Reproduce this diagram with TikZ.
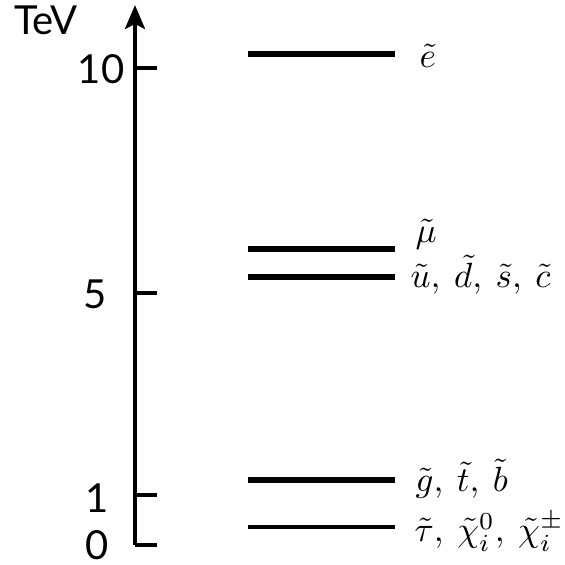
\documentclass[tikz,border=0pt]{standalone}
\usepackage{fontspec}
\newfontfamily\axisfont{Lato}
\usepackage{amsmath,amssymb}
\usetikzlibrary{arrows.meta}
\tikzset{
  axis/.style     = {line width=4pt,-{Stealth[length=24pt,width=20pt,inset=5pt]}},
  axtick/.style   = {line width=4pt},
  level/.style    = {line width=6pt},
  lowlevel/.style = {line width=4.5pt},
  numlbl/.style   = {font=\axisfont\fontsize{40}{44}\selectfont,inner sep=0pt},
  partlbl/.style  = {scale=3.5,anchor=base west,inner sep=0pt},
}
\begin{document}
\begin{tikzpicture}[x=1pt,y=1pt]
  \useasboundingbox (0,0) rectangle (565,565);
  % energy axis
  \coordinate (axbot) at (135,20);
  \coordinate (axtop) at (135,560);
  \draw[axis] (axbot) -- (axtop);
  \node[numlbl] (tev) at (46,545) {TeV};
  \draw[axtick] (135,497) -- (157,497);
  \draw[axtick] (135,272) -- (157,272);
  \draw[axtick] (135,70) -- (157,70);
  \draw[axtick] (135,20) -- (157,20);
  \node[numlbl] (t10) at (101,496) {10};
  \node[numlbl] (t5) at (95,271) {5};
  \node[numlbl] (t1) at (97,67) {1};
  \node[numlbl] (t0) at (97,20) {0};
  % mass levels
  \draw[level] (248,511) -- (395,511);
  \draw[level] (248,316) -- (395,316);
  \draw[level] (248,288) -- (395,288);
  \draw[level] (248,85) -- (395,85);
  \draw[lowlevel] (248,38) -- (395,38);
  \node[partlbl] (selec) at (419,497) {$\tilde e$};
  \node[partlbl] (smu) at (415,322) {$\tilde\mu$};
  \node[partlbl] (squark) at (410,277) {$\tilde u,\:\tilde d,\:\tilde s,\:\tilde c$};
  \node[partlbl] (gluino) at (415,73) {$\tilde g,\:\tilde t,\:\tilde b$};
  \node[partlbl] (light) at (414,23) {$\tilde\tau,\:\tilde\chi_i^0,\:\tilde\chi_i^\pm$};
\end{tikzpicture}
\end{document}
